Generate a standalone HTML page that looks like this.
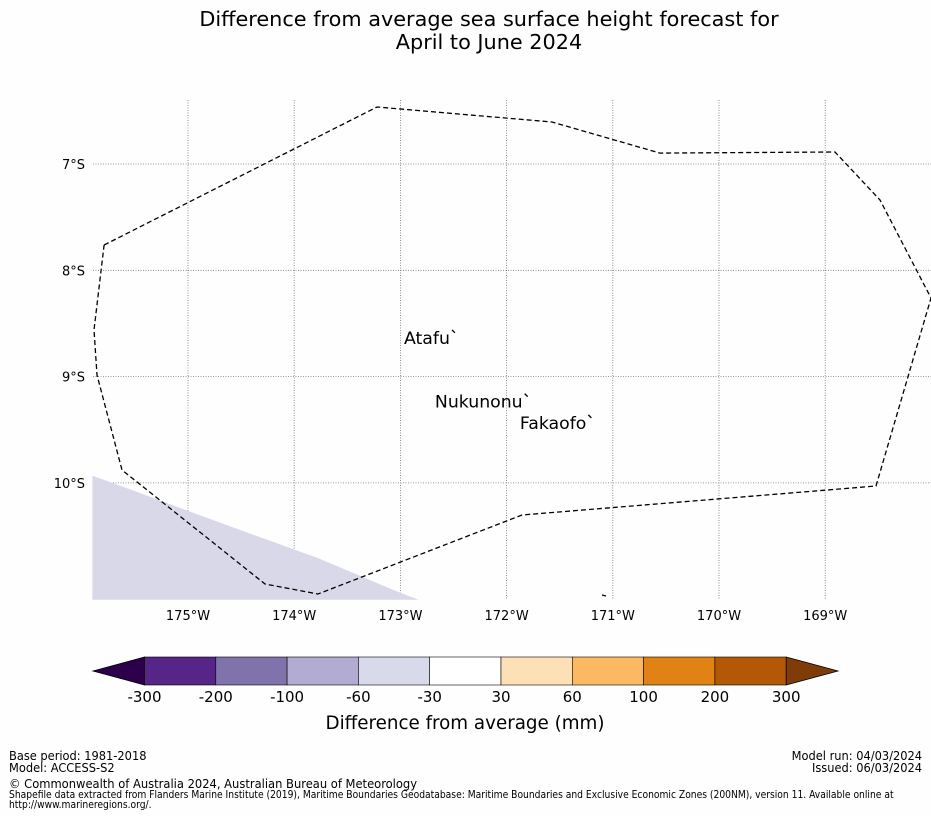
<!DOCTYPE html>
<html><head><meta charset="utf-8">
<style>
body{margin:0;background:#fefefe;width:931px;height:816px;overflow:hidden;font-family:"DejaVu Sans","Liberation Sans",sans-serif;}
svg{position:absolute;left:0;top:0}
</style></head>
<body>
<svg id="chart" width="931" height="816" xmlns="http://www.w3.org/2000/svg">
<text x="489" y="26" text-anchor="middle" font-size="20.8" fill="#000">Difference from average sea surface height forecast for</text>
<text x="489" y="49" text-anchor="middle" font-size="20.8" fill="#000">April to June 2024</text>
<g id="grid"></g>
<g id="map"></g>
<g id="axes"></g>
<g id="cbar"></g>
<text x="465" y="729" text-anchor="middle" font-size="18.3">Difference from average (mm)</text>
<g font-size="12.7" font-stretch="condensed" style="font-family:'DejaVu Sans Condensed','DejaVu Sans',sans-serif">
<text x="9" y="760">Base period: 1981-2018</text>
<text x="9" y="772">Model: ACCESS-S2</text>
<text x="922" y="760" text-anchor="end">Model run: 04/03/2024</text>
<text x="922" y="772" text-anchor="end">Issued: 06/03/2024</text>
<text x="9" y="788" font-size="12.8">© Commonwealth of Australia 2024, Australian Bureau of Meteorology</text>
<text x="9" y="798" font-size="10.2">Shapefile data extracted from Flanders Marine Institute (2019), Maritime Boundaries Geodatabase: Maritime Boundaries and Exclusive Economic Zones (200NM), version 11. Available online at</text>
<text x="9" y="808" font-size="10.2">http://www.marineregions.org/.</text>
</g>
</svg>
<script>
const lonTicks=[-175,-174,-173,-172,-171,-170,-169];
const latTicks=[-7,-8,-9,-10];
const eezLon=[-175.79,-173.22,-171.573,-170.556,-168.908,-168.484,-168.004,-168.522,-171.855,-173.776,-174.275,-175.621,-175.857,-175.885,-175.79];
const eezLat=[-7.762,-6.464,-6.605,-6.897,-6.887,-7.339,-8.261,-10.029,-10.302,-11.045,-10.951,-9.879,-8.985,-8.562,-7.762];
const shadeLon=[-175.9,-175.74,-174.9,-174.24,-173.77,-173.39,-173.06,-172.83,-175.9];
const shadeLat=[-9.933,-9.99,-10.30,-10.54,-10.71,-10.87,-11.01,-11.1,-11.1];
const islandNames=["Atafu","Nukunonu","Fakaofo"];
const islandLon=[-172.515,-171.83,-171.23];
const islandLat=[-8.56,-9.16,-9.36];
const cbLevels=["-300","-200","-100","-60","-30","30","60","100","200","300"];
const cbColors=["#552688","#8073ac","#b2abd2","#d8daeb","#ffffff","#fee0b6","#fdb863","#e08214","#b35806"];
const cbUnder="#2d004b", cbOver="#7f3b08";
const NS="http://www.w3.org/2000/svg";
const L=93,R=931,T=100,B=600;
const x=lon=>188+(lon+175)*106.2;
const y=lat=>164+(-7-lat)*106.3;
function mk(tag,attrs,parent){const e=document.createElementNS(NS,tag);for(const k in attrs)e.setAttribute(k,attrs[k]);parent.appendChild(e);return e;}
const grid=document.getElementById('grid'),map=document.getElementById('map'),axes=document.getElementById('axes'),cb=document.getElementById('cbar');
const sp=mk('polygon',{points:shadeLon.map((v,i)=>x(v).toFixed(1)+','+Math.min(B,y(shadeLat[i])).toFixed(1)).join(' '),fill:'#d8d8e8'},map);


lonTicks.forEach(v=>{
  const l=mk('line',{x1:x(v),x2:x(v),y1:T,y2:B,stroke:'#777','stroke-width':0.8,'stroke-dasharray':'1,1.5'},grid);
  
  
  const t=mk('text',{x:x(v),y:620,'text-anchor':'middle','font-size':13},axes);
  t.textContent=Math.abs(v)+'°W';
  
  
});
latTicks.forEach(v=>{
  const l=mk('line',{x1:L,x2:R,y1:y(v),y2:y(v),stroke:'#777','stroke-width':0.8,'stroke-dasharray':'1,1.5'},grid);
  
  
  const t=mk('text',{x:85,y:y(v)+5,'text-anchor':'end','font-size':13},axes);
  t.textContent=Math.abs(v)+'°S';
  
  
});
const eez=mk('polyline',{points:eezLon.map((v,i)=>x(v).toFixed(1)+','+y(eezLat[i]).toFixed(1)).join(' '),fill:'none',stroke:'#000','stroke-width':1.3,'stroke-dasharray':'5,3'},map);


islandNames.forEach((n,i)=>{
  const px=x(islandLon[i]),py=y(islandLat[i]);
  const m=mk('line',{x1:px,y1:py,x2:px+3,y2:py+3,stroke:'#000','stroke-width':1.3},map);
  
  
  const t=mk('text',{x:px-2,y:py+14,'text-anchor':'end','font-size':17.3},map);
  t.textContent=n;
  
  
});
const sm=mk('line',{x1:602,y1:595,x2:606,y2:596,stroke:'#000','stroke-width':1.2},map);


const cx0=144.5,cw=71.3,cy=657,ch=28;
const und=mk('polygon',{points:`${cx0},${cy} ${cx0},${cy+ch} 93,${cy+ch/2}`,fill:cbUnder,stroke:'#000','stroke-width':0.8},cb);


cbColors.forEach((c,i)=>{
  const r=mk('rect',{x:cx0+i*cw,y:cy,width:cw,height:ch,fill:c,stroke:'#000','stroke-width':0.6},cb);
  
  
});
const xe=cx0+cbColors.length*cw;
const ov=mk('polygon',{points:`${xe},${cy} ${xe},${cy+ch} 838,${cy+ch/2}`,fill:cbOver,stroke:'#000','stroke-width':0.8},cb);


cbLevels.forEach((s,i)=>{
  const t=mk('text',{x:cx0+i*cw,y:702,'text-anchor':'middle','font-size':15},cb);
  t.textContent=s;
  
  
});
</script>
</body></html>
